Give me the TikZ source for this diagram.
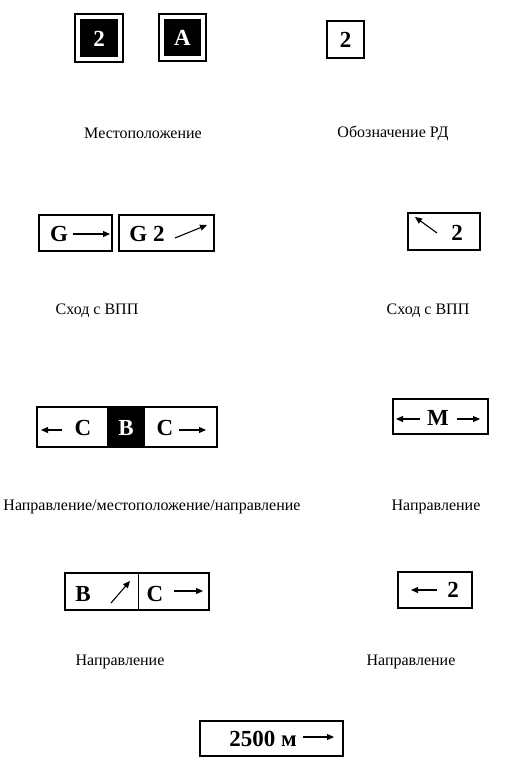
\documentclass[tikz,border=0pt]{standalone}
\usepackage{fontspec}
\setmainfont{Liberation Serif}
\usetikzlibrary{arrows.meta}

\tikzset{
  sign/.style={draw, line width=1.2pt},
  signtxt/.style={font=\fontsize{23}{23}\selectfont\bfseries, inner sep=0pt},
  caption/.style={font=\fontsize{16}{18}\selectfont, inner sep=0pt},
  arr/.style={line width=1.1pt, -{Triangle[length=7pt,width=6pt]}},
}

\begin{document}
\begin{tikzpicture}[x=1pt, y=-1pt]
  \useasboundingbox (0,0) rectangle (524,776);
  % location signs
  \draw[sign] (75,14) rectangle (123,62);
  \fill (80,19) rectangle (118,57);
  \node[signtxt, white] (loc2) at (99,38.5) {2};
  \draw[sign] (159,14) rectangle (206,61);
  \fill (164,19) rectangle (201,56);
  \node[signtxt, white] (locA) at (182.5,38) {A};
  \node[caption] (capLoc) at (143,133) {Местоположение};
  % taxiway designation
  \draw[sign] (327,21) rectangle (364,58);
  \node[signtxt] (twy2) at (345.5,40) {2};
  \node[caption] (capTwy) at (393,133) {Обозначение РД};

  % runway exit
  \draw[sign] (39,215) rectangle (112,251);
  \node[signtxt] (exG) at (59,234) {G};
  \draw[arr] (73,234) -- (110,234);
  \draw[sign] (119,215) rectangle (214,251);
  \node[signtxt] (exG2) at (147,234) {G 2};
  \draw[arr] (175,238) -- (207,225);
  \node[caption] (capExitL) at (97,311) {Сход с ВПП};
  \draw[sign] (408,213) rectangle (480,250);
  \draw[arr] (437,233) -- (415,217);
  \node[signtxt] (ex2) at (457,233) {2};
  \node[caption] (capExitR) at (428,311) {Сход с ВПП};

  % direction / location / direction
  \draw[sign] (37,407) rectangle (217,447);
  \fill (107,407) rectangle (145,447);
  \draw[arr] (62,430) -- (41,430);
  \node[signtxt] (dirC1) at (83,428) {C};
  \node[signtxt, white] (dirB) at (126,428) {B};
  \node[signtxt] (dirC2) at (165,428) {C};
  \draw[arr] (179,430) -- (206,430);
  \node[caption] (capDLD) at (152,507) {Направление/местоположение/направление};
  % direction M
  \draw[sign] (393,399) rectangle (488,434);
  \draw[arr] (420,419) -- (396,419);
  \node[signtxt] (dirM) at (438,418) {M};
  \draw[arr] (457,419) -- (480,419);
  \node[caption] (capDirM) at (436,507) {Направление};

  % direction B / C
  \draw[sign] (65,573) rectangle (209,610);
  \draw[line width=0.8pt] (138,573) -- (138,610);
  \node[signtxt] (dirBB) at (83,594) {B};
  \draw[arr] (111,603) -- (130,581);
  \node[signtxt] (dirCC) at (155,594) {C};
  \draw[arr] (174,591) -- (203,591);
  \node[caption] (capDirBC) at (120,662) {Направление};
  % direction 2
  \draw[sign] (398,572) rectangle (472,608);
  \draw[arr] (437,590) -- (411,590);
  \node[signtxt] (dir2) at (453,590) {2};
  \node[caption] (capDir2) at (411,662) {Направление};

  % distance
  \draw[sign] (200,721) rectangle (343,756);
  \node[signtxt] (dist) at (263,739) {2500 м};
  \draw[arr] (303,737) -- (334,737);
\end{tikzpicture}
\end{document}
